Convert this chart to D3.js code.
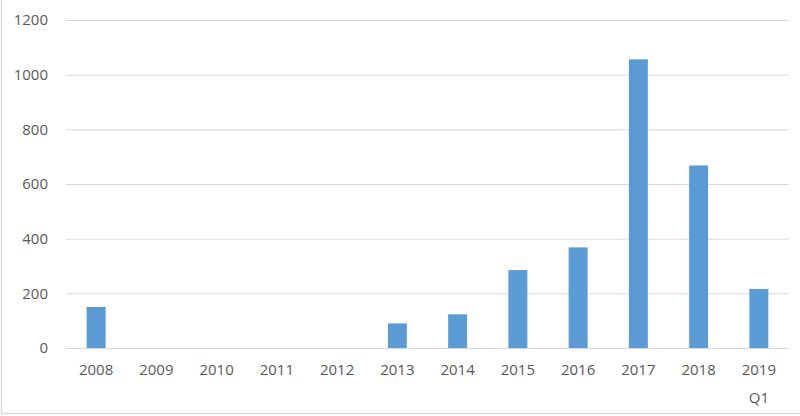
<!DOCTYPE html>
<html>
<head>
<meta charset="utf-8">
<script src="https://cdn.jsdelivr.net/npm/d3@7"></script>
<style>
  body { margin: 0; background: #fff; }
  svg { display: block; }
</style>
</head>
<body>
<svg id="chart" width="800" height="416"></svg>
<script>
const categories = ['2008', '2009', '2010', '2011', '2012', '2013', '2014', '2015', '2016', '2017', '2018', '2019 Q1'];
const values = [150, 0, 0, 0, 0, 90, 123, 285, 368, 1056, 668, 216];
const yTicks = [0, 200, 400, 600, 800, 1000, 1200];

const svg = d3.select('#chart');
const margin = { top: 20, right: 11, bottom: 68, left: 66 };
const width = 800, height = 416;
const textColor = '#595959';
const font = '"Open Sans", sans-serif';

// outer frame (left and bottom edges visible)
svg.append('path')
    .attr('d', `M1.5,0 V413.5 H800`)
    .attr('fill', 'none')
    .attr('stroke', '#d9d9d9')
    .attr('stroke-width', 1.5);

const x = d3.scaleBand()
    .domain(categories)
    .range([margin.left, width - margin.right])
    .paddingInner(0.685)
    .paddingOuter(0.3425);

const y = d3.scaleLinear()
    .domain([0, 1200])
    .range([height - margin.bottom, margin.top]);

// gridlines + y labels
const yAxis = svg.append('g')
    .attr('transform', `translate(${margin.left},0)`)
    .call(d3.axisLeft(y).tickValues(yTicks).tickFormat(d3.format('d'))
        .tickSize(-(width - margin.left - margin.right)).tickPadding(18));
yAxis.select('.domain').remove();
yAxis.selectAll('.tick line').attr('stroke', '#d9d9d9').attr('stroke-width', 1);
yAxis.selectAll('.tick text')
    .attr('fill', textColor)
    .style('font-family', font)
    .style('font-size', '15px');

// bars
svg.append('g').selectAll('rect')
    .data(values)
    .join('rect')
    .attr('x', (d, i) => x(categories[i]))
    .attr('width', x.bandwidth())
    .attr('y', d => y(d))
    .attr('height', d => y(0) - y(d))
    .attr('fill', '#5b9bd5');

// x labels (multi-line for "2019 Q1")
const xLabels = svg.append('g')
    .selectAll('text')
    .data(categories)
    .join('text')
    .attr('x', d => x(d) + x.bandwidth() / 2)
    .attr('y', y(0) + 27)
    .attr('text-anchor', 'middle')
    .attr('fill', textColor)
    .style('font-family', font)
    .style('font-size', '15px');
xLabels.each(function(d) {
    const parts = d.split(' ');
    const t = d3.select(this);
    parts.forEach((p, i) => {
        t.append('tspan')
            .attr('x', x(d) + x.bandwidth() / 2)
            .attr('dy', i === 0 ? 0 : 28)
            .text(p);
    });
});
</script>
</body>
</html>
